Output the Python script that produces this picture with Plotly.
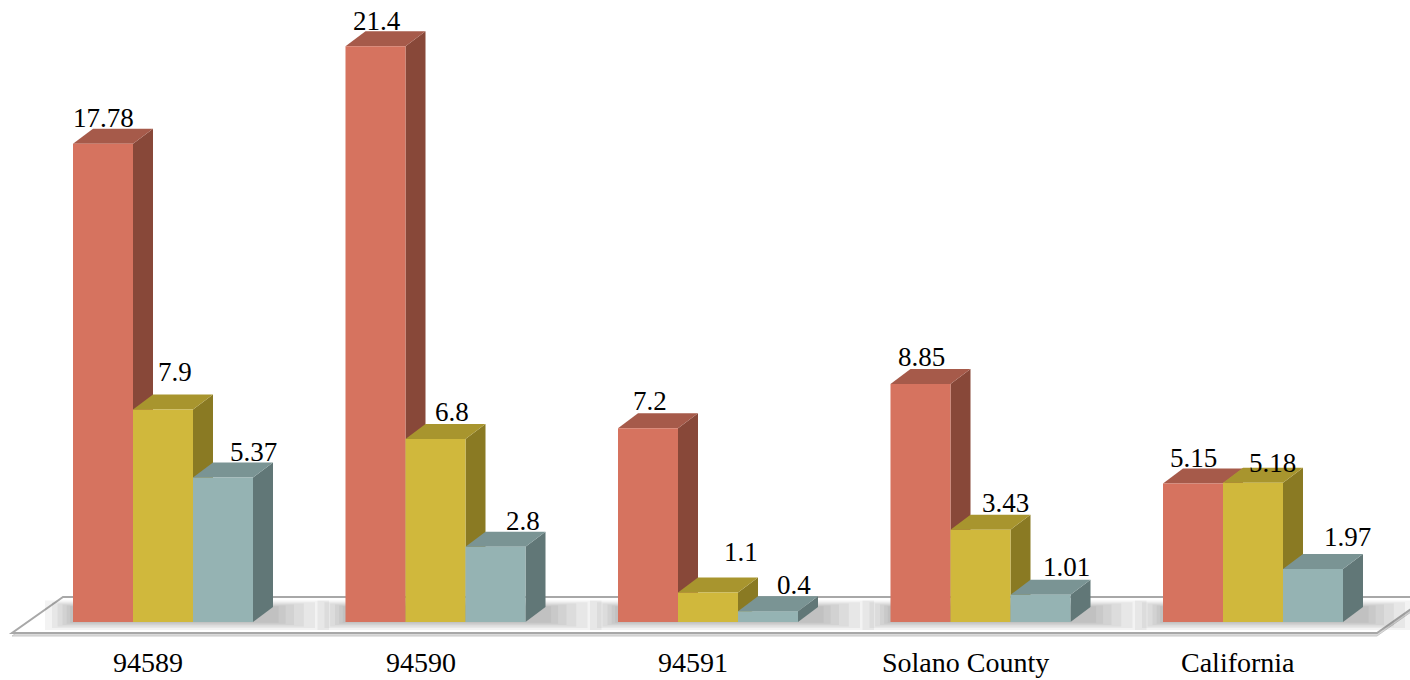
import plotly.graph_objects as go

# ---- data -------------------------------------------------------------
categories = ["94589", "94590", "94591", "Solano County", "California"]
series_a = [17.78, 21.4, 7.2, 8.85, 5.15]
series_b = [7.9, 6.8, 1.1, 3.43, 5.18]
series_c = [5.37, 2.8, 0.4, 1.01, 1.97]

# ---- look & layout ------------------------------------------------------
W, H = 1410, 680
PX_PER_UNIT = 26.9          # vertical pixels per value unit
BASE_PX = 622               # pixel row of the value 0
GROUP_PX = 272.5            # pixel distance between categories
FIRST_PX = 163              # pixel column of the first category centre
BAR_PX = 60                 # bar front width in pixels
DEPTH_X, DEPTH_Y = 20, 15   # 3-D depth of a bar in pixels

FACE = ["#D6735F", "#D0B83C", "#95B3B3"]
SIDE = ["#884839", "#8A7A23", "#617777"]
TOP = ["#A65A4A", "#A8952E", "#7A9494"]
FONT = "Liberation Serif"

# value-label nudges (pixels): right, up
LABEL_DX = [[0, 12, 30], [1, 16, 27], [2, 33, 26], [1, 25, 26], [0, 19, 34]]
LABEL_DY = [[26, 37, 26], [25, 27, 26], [27, 40, 26], [27, 27, 28], [25, 20, 32]]


def ux(px):
    return px / GROUP_PX


def uy(px):
    return px / PX_PER_UNIT


x_range = [-FIRST_PX / GROUP_PX, (W - FIRST_PX) / GROUP_PX]
y_range = [-(H - BASE_PX) / PX_PER_UNIT, BASE_PX / PX_PER_UNIT]

bw = ux(BAR_PX)
ddx, ddy = ux(DEPTH_X), uy(DEPTH_Y)
all_series = [series_a, series_b, series_c]

fig = go.Figure()
shapes = []


def poly(pts, fill, line_color=None, width=0, opacity=1.0):
    path = "M " + " L ".join(f"{x:.5f},{y:.5f}" for x, y in pts) + " Z"
    return dict(type="path", path=path, xref="x", yref="y", layer="below",
                fillcolor=fill, opacity=opacity,
                line=dict(color=line_color or fill, width=width))


# floor plate (with a thin lower rim)
fl_l, fl_r = ux(12 - FIRST_PX), ux(1377 - FIRST_PX)
fl_f, fl_b = uy(BASE_PX - 633), uy(BASE_PX - 597)
fl_dx = ux(51)
rim = uy(3)
shapes.append(poly([(fl_l, fl_f - rim), (fl_r, fl_f - rim), (fl_r + fl_dx, fl_b - rim),
                    (fl_l + fl_dx, fl_b - rim)], "#DADADA", "#C8C8C8", 1))
shapes.append(poly([(fl_l, fl_f), (fl_r, fl_f), (fl_r + fl_dx, fl_b), (fl_l + fl_dx, fl_b)],
                   "#FFFFFF", "#A8A8A8", 2))

# soft shadows on the floor around each group
for i in range(len(categories)):
    left = i - 1.5 * bw
    right = i + 1.5 * bw + ddx
    for k, spread in enumerate([40, 30, 22, 15, 9, 4]):
        sx = ux(spread)
        sy = uy(spread * 0.4)
        shapes.append(poly([(left - sx * 0.7, -sy * 0.5), (right + sx * 1.4, -sy * 0.5),
                            (right + sx * 1.4, ddy + sy * 0.4), (left - sx * 0.7, ddy + sy * 0.4)],
                           "#5E5E5E", opacity=0.075))

# bars: front faces as traces, side + top faces as shapes behind them
for k, vals in enumerate(all_series):
    xs = [i + (k - 1) * bw for i in range(len(categories))]
    fig.add_trace(go.Bar(x=xs, y=vals, width=bw, marker=dict(color=FACE[k], line=dict(width=0)),
                         hoverinfo="skip", showlegend=False))

for i in range(len(categories)):
    for k, vals in enumerate(all_series):
        h = vals[i]
        xl = i + (k - 1) * bw - bw / 2
        xr = xl + bw
        shapes.append(poly([(xr, 0), (xr + ddx, ddy), (xr + ddx, h + ddy), (xr, h)], SIDE[k]))
        shapes.append(poly([(xl, h), (xr, h), (xr + ddx, h + ddy), (xl + ddx, h + ddy)], TOP[k]))

annotations = []
for i in range(len(categories)):
    for k, vals in enumerate(all_series):
        annotations.append(dict(x=i + (k - 1) * bw, y=vals[i], xref="x", yref="y",
                                text=f"{vals[i]}", showarrow=False,
                                xshift=LABEL_DX[i][k], yshift=LABEL_DY[i][k],
                                xanchor="center", yanchor="middle",
                                font=dict(family=FONT, size=27, color="#000000")))
    annotations.append(dict(x=i, y=0, xref="x", yref="y", text=categories[i], showarrow=False,
                            xshift=-15, yshift=-(662 - BASE_PX), xanchor="center",
                            yanchor="middle",
                            font=dict(family=FONT, size=28, color="#000000")))

fig.update_layout(
    width=W, height=H,
    margin=dict(l=0, r=0, t=0, b=0),
    paper_bgcolor="#FFFFFF", plot_bgcolor="rgba(0,0,0,0)",
    barmode="overlay",
    shapes=shapes, annotations=annotations,
    xaxis=dict(range=x_range, visible=False, fixedrange=True),
    yaxis=dict(range=y_range, visible=False, fixedrange=True),
)

fig.write_html("out.html")
